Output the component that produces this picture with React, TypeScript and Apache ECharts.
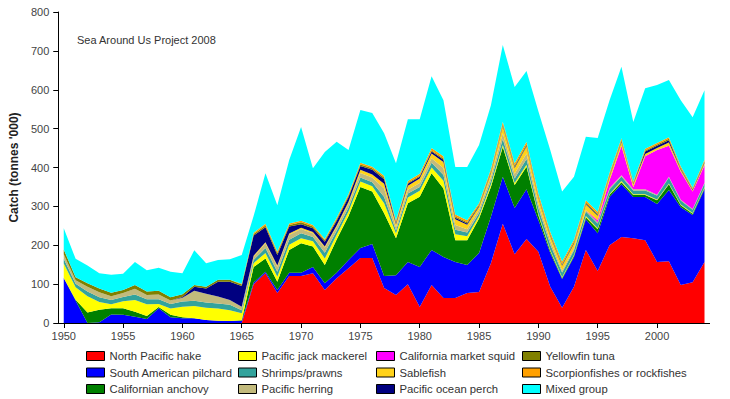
import React, { useEffect, useRef } from "react";
import * as echarts from "echarts";

const years: string[] = [];
for (let y = 1950; y <= 2004; y++) years.push(String(y));

const hake = [0,0,0,0,0,0,0,0,0,0,0,0,0,0,0,0,
  100,128,77,121,121,128,85,115,141,167,167,90,72,100,41,98,64,64,77,80,154,255,177,216,183,93,39,93,188,134,200,221,218,213,157,159,98,105,157];
const pilchard = [116,58,0,2,22,21,16,10,38,15,12,12,8,6,5,5,
  4,4,8,8,8,16,17,14,21,26,36,31,51,57,103,90,106,93,72,100,119,121,119,128,82,87,74,77,79,97,124,136,106,111,149,183,200,173,187];
const anchovy = [0,2,27,32,16,17,13,8,3,6,3,0,0,0,0,2,
  40,34,21,59,76,53,47,86,113,157,135,161,95,151,181,197,176,56,64,89,77,77,59,58,12,5,3,3,5,10,6,5,5,5,10,15,5,3,3];
const jackMackerel = [37,32,42,20,10,18,30,30,8,16,27,32,31,31,28,18,
  10,14,13,13,13,13,17,12,12,14,14,26,12,15,15,15,20,15,10,6,6,5,5,5,4,3,2,2,3,3,2,3,2,2,2,2,2,2,2];
const shrimps = [12,9,12,12,11,11,14,13,12,12,13,13,14,13,14,8,
  8,13,13,13,13,11,15,10,10,10,10,16,8,10,10,12,15,12,10,8,10,15,12,15,14,14,12,12,12,12,12,12,10,10,10,15,10,8,10];
const herring = [12,9,12,13,10,10,15,11,12,9,10,26,22,18,12,9,
  8,12,13,13,11,10,13,10,10,12,12,22,8,10,10,12,18,12,8,8,10,15,12,14,12,10,5,5,3,3,3,3,3,3,2,2,2,2,2];
const squid = [0,0,0,0,0,0,0,0,0,0,0,0,0,0,0,0,
  0,0,0,0,0,0,0,0,0,0,0,0,0,0,0,0,0,0,0,0,0,0,0,0,0,0,0,0,0,5,20,75,5,85,115,80,72,45,45];
const sablefish = [0,0,0,0,0,0,0,0,0,0,0,0,0,0,0,0,
  3,3,3,3,3,3,3,4,5,8,8,12,8,10,12,12,15,15,12,8,10,18,15,18,15,12,12,12,15,12,10,10,8,6,5,8,5,3,5];
const oceanPerch = [0,0,0,0,0,0,0,0,0,0,2,10,14,38,47,53,
  52,38,27,18,9,10,12,12,12,10,12,12,3,5,4,5,6,4,3,2,2,2,2,2,2,2,2,2,2,2,2,2,2,6,6,6,2,2,2];
const yellowfin = [12,8,9,10,9,8,10,9,10,8,7,5,4,5,5,4,
  4,5,5,4,5,4,4,4,4,4,4,4,3,3,3,3,3,3,3,3,3,4,4,4,3,3,3,3,3,3,3,3,2,3,3,4,3,2,3];
const scorpion = [0,0,0,0,0,0,0,0,0,0,0,0,0,0,0,2,
  3,4,4,4,4,4,3,4,4,4,4,5,4,4,5,6,6,5,5,4,5,6,6,6,6,6,6,5,6,5,5,5,3,4,4,4,4,3,4];
const mixed = [55,47,46,39,46,42,59,55,59,66,54,89,61,51,53,74,
  43,130,119,163,241,146,224,195,113,136,138,109,147,159,140,185,144,122,137,150,164,197,196,182,212,210,180,162,163,190,186,184,153,156,149,147,170,181,179];

const seriesNames = [
  "North Pacific hake", "South American pilchard", "Californian anchovy",
  "Pacific jack mackerel", "Shrimps/prawns", "Pacific herring",
  "California market squid", "Sablefish", "Pacific ocean perch",
  "Yellowfin tuna", "Scorpionfishes or rockfishes", "Mixed group",
];
const seriesValues = [hake, pilchard, anchovy, jackMackerel, shrimps, herring, squid, sablefish, oceanPerch, yellowfin, scorpion, mixed];
const seriesColors = [
  "#FF0000", "#0000FF", "#008000",
  "#FFFF00", "#33A39C", "#C2BA7C",
  "#FF00FF", "#FFD21A", "#000080",
  "#808000", "#FFA000", "#00FFFF",
];
const legendColumnsX = [86, 238, 376, 522];

const FONT = "'Liberation Sans', Arial, Helvetica, sans-serif";

export default function App() {
  const ref = useRef<HTMLDivElement>(null);
  useEffect(() => {
    if (!ref.current) return;
    const chart = echarts.init(ref.current, undefined, { renderer: "svg" });
    const series = seriesNames.map((name, i) => ({
      name,
      type: "line",
      stack: "total",
      symbol: "none",
      showSymbol: false,
      color: seriesColors[i],
      lineStyle: { width: 0, color: seriesColors[i] },
      areaStyle: { color: seriesColors[i], opacity: 1 },
      emphasis: { disabled: true },
      data: seriesValues[i],
    }));
    const legends = legendColumnsX.map((x, c) => ({
      orient: "vertical",
      left: x,
      top: 349,
      padding: 0,
      itemWidth: 18,
      itemHeight: 9,
      itemGap: 2.5,
      icon: "rect",
      itemStyle: { borderColor: "#000", borderWidth: 1 },
      textStyle: { fontSize: 11.3, color: "#333", fontFamily: FONT, lineHeight: 14 },
      data: seriesNames.slice(c * 3, c * 3 + 3),
    }));
    chart.setOption({
      animation: false,
      backgroundColor: "#fff",
      textStyle: { fontFamily: FONT },
      title: {
        text: "Sea Around Us Project 2008",
        left: 77,
        top: 34,
        padding: 0,
        textStyle: { fontSize: 11, fontWeight: "normal", color: "#333", fontFamily: FONT },
      },
      legend: legends,
      graphic: [
        {
          type: "line",
          silent: true,
          z: 100,
          shape: { x1: 58, y1: 323.5, x2: 710, y2: 323.5 },
          style: { stroke: "#000", lineWidth: 1 },
        },
      ],
      grid: { left: 63.5, right: 25.5, top: 12, bottom: 76, containLabel: false },
      xAxis: {
        type: "category",
        data: years,
        boundaryGap: false,
        axisLine: { show: false, onZero: false },
        axisTick: { show: true, interval: 4, length: 5, lineStyle: { color: "#000" } },
        axisLabel: {
          interval: 4,
          color: "#444",
          fontSize: 11,
          margin: 7,
          fontFamily: FONT,
        },
        splitLine: { show: false },
      },
      yAxis: {
        type: "value",
        min: 0,
        max: 800,
        interval: 100,
        offset: 5.5,
        name: "Catch (tonnes '000)",
        nameLocation: "middle",
        nameGap: 28,
        nameTextStyle: { fontSize: 12, fontWeight: "bold", color: "#222", fontFamily: FONT },
        axisLine: { show: true, lineStyle: { color: "#000", width: 1 } },
        axisTick: { show: true, length: 5, lineStyle: { color: "#000" } },
        axisLabel: { color: "#444", fontSize: 11, margin: 9, fontFamily: FONT },
        splitLine: { show: false },
      },
      series,
    });
    return () => chart.dispose();
  }, []);
  return (
    <div
      ref={ref}
      style={{ position: "fixed", left: 0, top: 0, width: 730, height: 399, background: "#fff" }}
    />
  );
}
